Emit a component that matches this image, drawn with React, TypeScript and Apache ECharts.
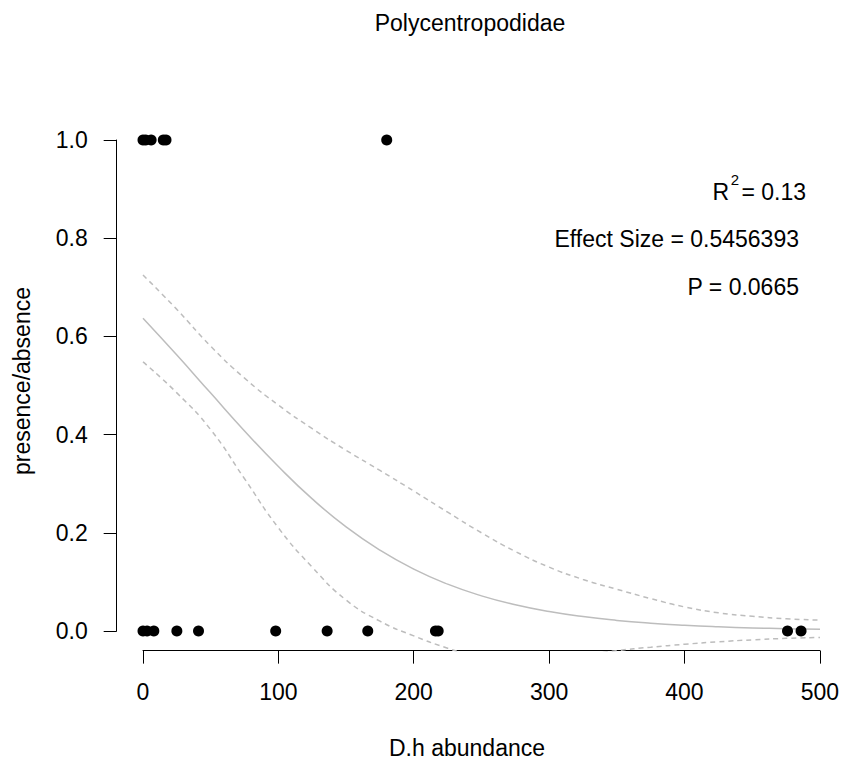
import React, { useEffect, useRef } from "react";
import * as echarts from "echarts";

// ---- data ----
const titleText = "Polycentropodidae";
const xAxisTitle = "D.h abundance";
const yAxisTitle = "presence/absence";

const xPresent = [0, 2, 6, 15, 17, 180];
const xAbsent = [0, 3, 8, 25, 41, 98, 136, 166, 216, 218, 476, 486];

const curveX = [0, 25, 50, 75, 100, 125, 150, 175, 200, 225, 250, 275, 300, 325, 350, 375, 400, 425, 450, 475, 500];
const fitY = [0.637, 0.562, 0.4845, 0.4075, 0.335, 0.269, 0.212, 0.1646, 0.126, 0.0954, 0.0716, 0.0535, 0.0397, 0.0293, 0.0216, 0.0159, 0.0117, 0.0086, 0.0063, 0.0046, 0.0034];
const upperY = [0.725, 0.655, 0.58, 0.515, 0.46, 0.412, 0.368, 0.327, 0.285, 0.242, 0.2, 0.162, 0.13, 0.105, 0.085, 0.066, 0.049, 0.037, 0.03, 0.025, 0.022];
const lowerY = [0.548, 0.485, 0.41, 0.31, 0.21, 0.13, 0.063, 0.02, -0.01, -0.035, -0.055, -0.062, -0.06, -0.05, -0.04, -0.033, -0.027, -0.022, -0.018, -0.015, -0.013];

const xTicks = [0, 100, 200, 300, 400, 500];
const yTicks = [0, 0.2, 0.4, 0.6, 0.8, 1.0];

const r2Text = "= 0.13";
const effectText = "Effect Size = 0.5456393";
const pText = "P = 0.0665";

// ---- layout ----
const W = 842;
const H = 765;
const FONT = '"Liberation Sans", Arial, Helvetica, sans-serif';
const FS = 23;

// pixel frame of the data range 0..500 x 0..1
const PX0 = 143;
const PX1 = 820;
const PY1 = 140; // y = 1
const PY0 = 631; // y = 0

const App: React.FC = () => {
  const ref = useRef<HTMLDivElement>(null);

  useEffect(() => {
    if (!ref.current) return;
    const chart = echarts.init(ref.current, null, { renderer: "svg" });

    const xMin = xTicks[0];
    const xMax = xTicks[xTicks.length - 1];
    const yMin = yTicks[0];
    const yMax = yTicks[yTicks.length - 1];
    const sx = (PX1 - PX0) / (xMax - xMin);
    const sy = (PY0 - PY1) / (yMax - yMin);

    // R-style 4% padding of the data range
    const allX = xPresent.concat(xAbsent);
    const dMinX = Math.min(...allX);
    const dMaxX = Math.max(...allX);
    const padX = (dMaxX - dMinX) * 0.04;
    const rMinX = dMinX - padX;
    const rMaxX = dMaxX + padX;
    const padY = (yMax - yMin) * 0.04;
    const rMinY = yMin - padY;
    const rMaxY = yMax + padY;

    const g0Left = PX0 + (rMinX - xMin) * sx;
    const g0Width = (rMaxX - rMinX) * sx;
    const g0Top = PY1 - (rMaxY - yMax) * sy;
    const g0Height = (rMaxY - rMinY) * sy;

    const axisBottomOffset = g0Top + g0Height - PY0;
    const axisLeftOffset = PX0 - g0Left;

    const grey = "#bdbdbd";
    const zip = (xs: number[], ys: number[]) => xs.map((x, i) => [x, ys[i]]);

    const curve = (ys: number[], dashed: boolean) => ({
      type: "line",
      xAxisIndex: 0,
      yAxisIndex: 0,
      data: zip(curveX, ys),
      smooth: true,
      showSymbol: false,
      symbol: "none",
      lineStyle: dashed ? { color: grey, width: 1.5, type: [5, 4] } : { color: grey, width: 1.5 },
      silent: true,
      z: 2,
    });

    const option: any = {
      animation: false,
      backgroundColor: "#ffffff",
      grid: [
        { left: g0Left, top: g0Top, width: g0Width, height: g0Height, containLabel: false },
        { left: PX0, top: PY1, width: PX1 - PX0, height: PY0 - PY1, containLabel: false },
      ],
      xAxis: [
        { type: "value", gridIndex: 0, min: rMinX, max: rMaxX, show: false },
        {
          type: "value",
          gridIndex: 1,
          min: xMin,
          max: xMax,
          interval: 100,
          position: "bottom",
          offset: axisBottomOffset,
          axisLine: { show: true, onZero: false, lineStyle: { color: "#000", width: 1 } },
          axisTick: { show: true, length: 13, lineStyle: { color: "#000", width: 1 } },
          axisLabel: { show: true, margin: 30, color: "#000", fontSize: FS, fontFamily: FONT },
          splitLine: { show: false },
        },
      ],
      yAxis: [
        { type: "value", gridIndex: 0, min: rMinY, max: rMaxY, show: false },
        {
          type: "value",
          gridIndex: 1,
          min: yMin,
          max: yMax,
          interval: 0.2,
          position: "left",
          offset: axisLeftOffset,
          axisLine: { show: true, onZero: false, lineStyle: { color: "#000", width: 1 } },
          axisTick: { show: true, length: 13, lineStyle: { color: "#000", width: 1 } },
          axisLabel: {
            show: true,
            margin: 29,
            color: "#000",
            fontSize: FS,
            fontFamily: FONT,
            formatter: (v: number) => v.toFixed(1),
          },
          splitLine: { show: false },
        },
      ],
      series: [
        curve(upperY, true),
        curve(lowerY, true),
        curve(fitY, false),
        {
          type: "scatter",
          xAxisIndex: 0,
          yAxisIndex: 0,
          data: xPresent.map((x) => [x, 1]),
          symbol: "circle",
          symbolSize: 11,
          itemStyle: { color: "#000", opacity: 1 },
          z: 5,
        },
        {
          type: "scatter",
          xAxisIndex: 0,
          yAxisIndex: 0,
          data: xAbsent.map((x) => [x, 0]),
          symbol: "circle",
          symbolSize: 11,
          itemStyle: { color: "#000", opacity: 1 },
          z: 5,
        },
      ],
      graphic: [
        {
          type: "text",
          x: 470,
          y: 23,
          style: { text: titleText, textAlign: "center", textVerticalAlign: "middle", font: `${FS}px ${FONT}`, fill: "#000" },
        },
        {
          type: "text",
          x: 467,
          y: 748,
          style: { text: xAxisTitle, textAlign: "center", textVerticalAlign: "middle", font: `${FS}px ${FONT}`, fill: "#000" },
        },
        {
          type: "text",
          x: 22,
          y: 381,
          rotation: Math.PI / 2,
          style: { text: yAxisTitle, textAlign: "center", textVerticalAlign: "middle", font: `${FS}px ${FONT}`, fill: "#000" },
        },
        {
          type: "text",
          x: 729,
          y: 192,
          style: { text: "R", textAlign: "right", textVerticalAlign: "middle", font: `${FS}px ${FONT}`, fill: "#000" },
        },
        {
          type: "text",
          x: 735,
          y: 179,
          style: { text: "2", textAlign: "center", textVerticalAlign: "middle", font: `15px ${FONT}`, fill: "#000" },
        },
        {
          type: "text",
          x: 806,
          y: 192,
          style: { text: r2Text, textAlign: "right", textVerticalAlign: "middle", font: `${FS}px ${FONT}`, fill: "#000" },
        },
        {
          type: "text",
          x: 799,
          y: 239,
          style: { text: effectText, textAlign: "right", textVerticalAlign: "middle", font: `${FS}px ${FONT}`, fill: "#000" },
        },
        {
          type: "text",
          x: 799,
          y: 287,
          style: { text: pText, textAlign: "right", textVerticalAlign: "middle", font: `${FS}px ${FONT}`, fill: "#000" },
        },
      ],
    };

    chart.setOption(option);
    return () => {
      chart.dispose();
    };
  }, []);

  return (
    <div
      ref={ref}
      style={{ position: "fixed", left: 0, top: 0, width: W, height: H, background: "#fff" }}
    />
  );
};

export default App;
